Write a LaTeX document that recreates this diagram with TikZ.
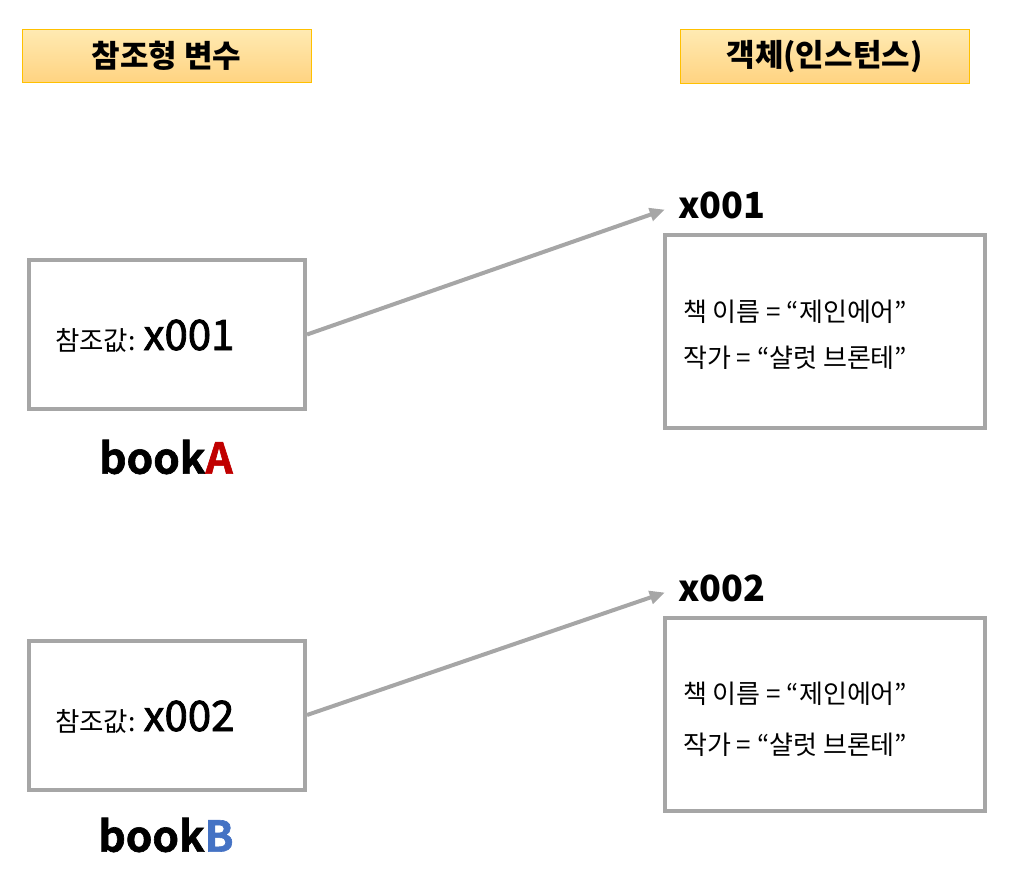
\documentclass[tikz,border=0pt]{standalone}
\usepackage{fontspec}
\setmainfont{Noto Sans CJK KR}
\newfontfamily\medfont[FakeBold=2]{Noto Sans CJK KR}
\newfontfamily\heavyfont[FakeBold=1.5]{Noto Sans CJK KR Bold}
\usetikzlibrary{arrows.meta}
\definecolor{boxgray}{HTML}{A6A6A6}
\definecolor{hdrtop}{HTML}{FFEAB2}
\definecolor{hdrbot}{HTML}{FFD381}
\definecolor{hdrline}{HTML}{FFC000}
\definecolor{redA}{HTML}{C00000}
\definecolor{blueB}{HTML}{4472C4}
\tikzset{
  header/.style={draw=hdrline, line width=1pt, top color=hdrtop, bottom color=hdrbot,
    minimum width=289pt, minimum height=53pt, inner sep=0pt,
    font=\fontsize{31}{37}\selectfont\bfseries},
  refbox/.style={draw=boxgray, line width=4pt, minimum width=276pt, minimum height=149pt, inner sep=0pt},
  objbox/.style={draw=boxgray, line width=4pt, minimum width=320pt, minimum height=193pt, inner sep=0pt},
  reftext/.style={anchor=base west, inner sep=0pt},
  objtext/.style={anchor=west, inner sep=0pt, font=\fontsize{26}{31}\selectfont},
  addr/.style={anchor=west, inner sep=0pt, font=\fontsize{36}{42}\selectfont\bfseries},
  varname/.style={inner sep=0pt, font=\fontsize{42.5}{50}\selectfont\heavyfont},
  arr/.style={draw=boxgray, line width=4pt, -{Triangle[length=15pt,width=13pt]}, shorten >=14pt}
}
\newcommand{\refval}[1]{{\fontsize{26.5}{31}\selectfont 참조값: }{\fontsize{42}{50}\selectfont\medfont #1}}
\begin{document}
\begin{tikzpicture}[x=1pt,y=-1pt]
\useasboundingbox (0,0) rectangle (1014,891);
\node[header] (h1) at (166.5,56) {참조형 변수};
\node[header] (h2) at (824.5,56.5) {객체(인스턴스)};

\node[refbox] (boxA) at (167,334.5) {};
\node[reftext] (refA) at (55,350) {\refval{x001}};
\node[varname] (nameA) at (166,457) {book\textcolor{redA}{A}};

\node[refbox] (boxB) at (167,715) {};
\node[reftext] (refB) at (55,731) {\refval{x002}};
\node[varname] (nameB) at (166,835) {book\textcolor{blueB}{B}};

\node[addr] (lblA) at (678,205) {x001};
\node[objbox] (objA) at (825,331.5) {};
\node[objtext] (a1) at (683,312) {책 이름 = “제인에어”};
\node[objtext] (a2) at (683,358) {작가 = “샬럿 브론테”};

\node[addr] (lblB) at (678,588) {x002};
\node[objbox] (objB) at (825,714) {};
\node[objtext] (b1) at (683,694) {책 이름 = “제인에어”};
\node[objtext] (b2) at (683,745) {작가 = “샬럿 브론테”};

\draw[arr] (boxA.east) -- (lblA.west);
\draw[arr] (boxB.east) -- (lblB.west);
\end{tikzpicture}
\end{document}
